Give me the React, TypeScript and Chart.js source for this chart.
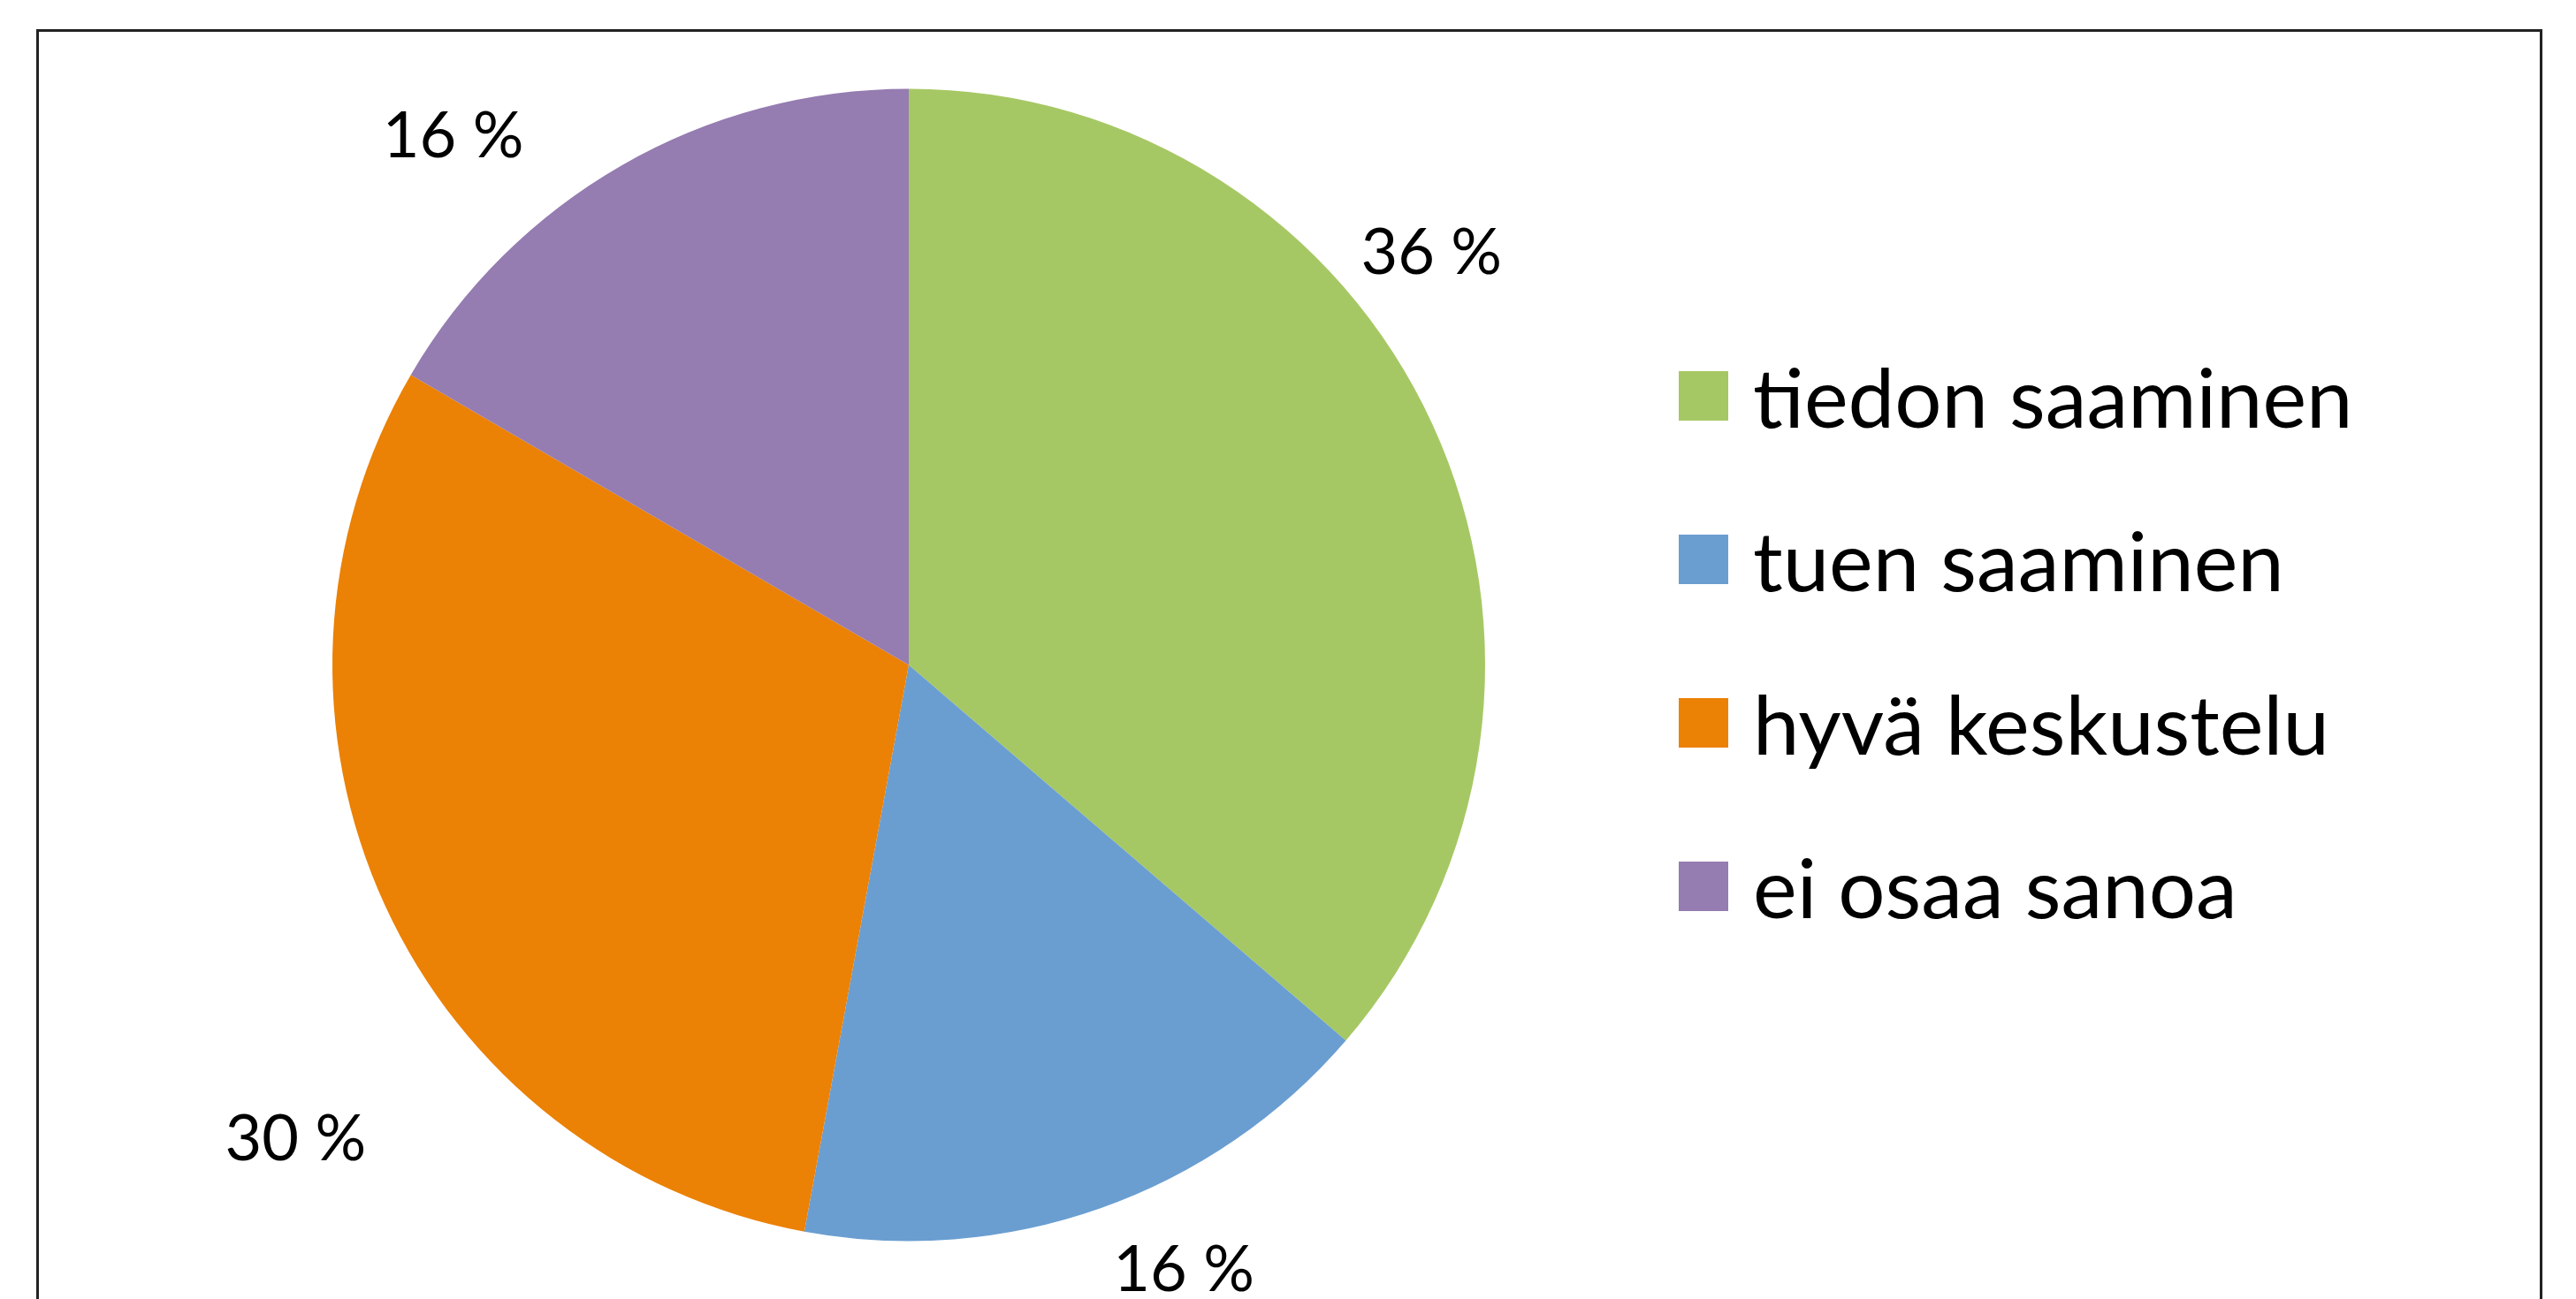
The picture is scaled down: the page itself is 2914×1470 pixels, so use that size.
import React, { useEffect, useRef } from "react";
import { Chart, registerables } from "chart.js";

Chart.register(...registerables);

const categories = ["tiedon saaminen", "tuen saaminen", "hyvä keskustelu", "ei osaa sanoa"];
const values = [36.3, 16.6, 30.5, 16.6];
const valueLabels = ["36 %", "16 %", "30 %", "16 %"];
const colors = ["#A6C864", "#6A9ED1", "#EB8105", "#957CB1"];

// label placement (angle shift in degrees, distance from centre as fraction of radius)
const labelAngleShift = [-13.8, -5.1, -12.9, -10.7];
const labelDistance = [1.158, 1.149, 1.342, 1.215];

const FONT = "Lato, 'Open Sans', sans-serif";

const framePlugin = {
  id: "frame",
  beforeDraw(chart: any) {
    const ctx = chart.ctx;
    ctx.save();
    ctx.fillStyle = "#ffffff";
    ctx.fillRect(0, 0, chart.width, chart.height);
    ctx.strokeStyle = "#222222";
    ctx.lineWidth = 3;
    ctx.strokeRect(42.5, 34.5, 2832, 1500);
    ctx.restore();
  },
};

const labelsPlugin = {
  id: "valueLabels",
  afterDraw(chart: any) {
    const ctx = chart.ctx;
    const meta = chart.getDatasetMeta(0);
    ctx.save();
    ctx.fillStyle = "#000000";
    ctx.font = `72px ${FONT}`;
    ctx.textAlign = "center";
    ctx.textBaseline = "middle";
    meta.data.forEach((arc: any, i: number) => {
      const { x, y, startAngle, endAngle, outerRadius } = arc.getProps(
        ["x", "y", "startAngle", "endAngle", "outerRadius"],
        true
      );
      const mid = (startAngle + endAngle) / 2 + (labelAngleShift[i] * Math.PI) / 180;
      const d = outerRadius * labelDistance[i];
      ctx.fillText(valueLabels[i], x + Math.cos(mid) * d, y + Math.sin(mid) * d + 4);
    });
    // legend
    const lx = 1899;
    const box = 56;
    const rowTop = 420;
    const rowGap = 185;
    ctx.textAlign = "left";
    ctx.font = `94px ${FONT}`;
    (chart.data.labels as string[]).forEach((lab: string, i: number) => {
      const cy = rowTop + box / 2 + i * rowGap;
      ctx.fillStyle = chart.data.datasets[0].backgroundColor[i];
      ctx.fillRect(lx, cy - box / 2, box, box);
      ctx.fillStyle = "#000000";
      ctx.fillText(lab, 1983, cy + 6);
    });
    ctx.restore();
  },
};

export default function App() {
  const ref = useRef<HTMLCanvasElement | null>(null);
  useEffect(() => {
    document.body.style.margin = "0";
    const canvas = ref.current!;
    const chart = new Chart(canvas, {
      type: "pie",
      data: {
        labels: categories,
        datasets: [
          {
            data: values,
            backgroundColor: colors,
            borderWidth: 0,
          },
        ],
      },
      options: {
        responsive: false,
        animation: false,
        layout: { padding: { left: 376, right: 1234, top: 100, bottom: 65 } },
        plugins: {
          legend: { display: false },
          tooltip: { enabled: false },
        },
      },
      plugins: [framePlugin, labelsPlugin],
    });
    return () => chart.destroy();
  }, []);
  return (
    <div style={{ width: 2914, height: 1470 }}>
      <canvas ref={ref} width={2914} height={1470} style={{ display: "block" }} />
    </div>
  );
}
